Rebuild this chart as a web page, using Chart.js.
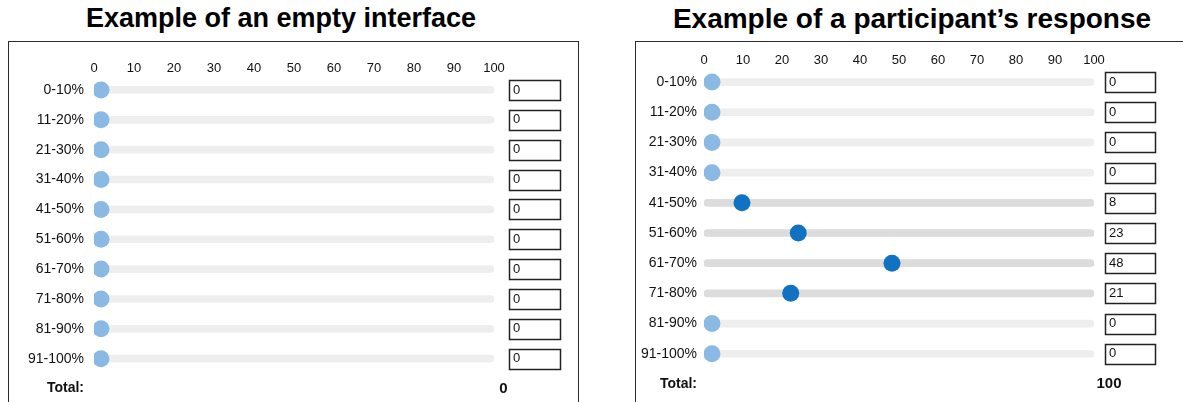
<!DOCTYPE html>
<html>
<head>
<meta charset="utf-8">
<script src="https://cdn.jsdelivr.net/npm/chart.js@4.4.1/dist/chart.umd.min.js"></script>
<style>
  body { margin: 0; width: 1183px; height: 402px; overflow: hidden; background: #fff; position: relative;
         font-family: "Liberation Sans", Arial, Helvetica, sans-serif; }
  .title { position: absolute; top: 5px; font-weight: bold; font-size: 27px; line-height: 27px; color: #000;
           white-space: nowrap; transform: translateX(-50%); }
  .panel { position: absolute; top: 41px; height: 400px; border: 1.5px solid #2b2b2b; box-sizing: border-box; }
  canvas { position: absolute; top: 42px; }
</style>
</head>
<body>
<div class="title" style="left:281px">Example of an empty interface</div>
<div class="title" style="left:912px; font-size:28px">Example of a participant’s response</div>
<div class="panel" style="left:8px; width:571px"></div>
<div class="panel" style="left:635px; width:600px"></div>
<canvas id="emptyChart" width="570" height="370" style="left:8px"></canvas>
<canvas id="responseChart" width="547" height="370" style="left:636px"></canvas>
<script>
// Categorías (filas del formulario)
const categories = ['0-10%', '11-20%', '21-30%', '31-40%', '41-50%',
                    '51-60%', '61-70%', '71-80%', '81-90%', '91-100%'];
const totalLabel = 'Total:';

// Valores de cada panel
const emptyValues = [0, 0, 0, 0, 0, 0, 0, 0, 0, 0];
const responseValues = [0, 0, 0, 0, 8, 23, 48, 21, 0, 0];

// Eje superior: 0..100 de 10 en 10
const tickMin = 0;
const tickMax = 100;
const tickStep = 10;

const FONT = '"Liberation Sans", Arial, Helvetica, sans-serif';

// Dibuja las cajas de texto y el total
const boxesPlugin = {
    id: 'boxes',
    afterDraw(chart, args, opts) {
        const { ctx, chartArea, scales } = chart;
        const y = scales.y;
        ctx.save();
        ctx.strokeStyle = '#222';
        ctx.lineWidth = 1.5;
        opts.values.forEach((v, i) => {
            const py = y.getPixelForValue(i);
            ctx.strokeRect(chartArea.right + opts.boxGap + 0.5, Math.round(py - 10) + 0.5, opts.boxW, 20);
        });
        const total = opts.values.reduce((a, b) => a + b, 0);
        ctx.fillStyle = '#111';
        ctx.font = 'bold 15px ' + FONT;
        ctx.textAlign = 'center';
        ctx.textBaseline = 'middle';
        ctx.fillText(String(total), chartArea.right + opts.totalDx, y.getPixelForValue(categories.length));
        ctx.restore();
    }
};

// sin relleno extra arriba/abajo de los ejes verticales
function fixPadding(s) {
    s.paddingTop = 0;
    s.paddingBottom = 0;
}

function makeChart(id, values, g) {
    const labels = categories.concat([totalLabel]);
    new Chart(document.getElementById(id), {
        type: 'bar',
        plugins: [boxesPlugin],
        data: {
            labels: labels,
            datasets: [{
                // pista del slider
                type: 'bar',
                data: categories.map(() => [tickMin, tickMax]),
                backgroundColor: values.map(v => v > 0 ? '#dcdcdc' : '#eeeeee'),
                barThickness: 7,
                borderRadius: 4,
                borderSkipped: false,
                xAxisID: 'x',
                yAxisID: 'y',
                order: 2
            }, {
                // botón del slider
                type: 'scatter',
                data: values.map((v, i) => ({ x: v, y: categories[i] })),
                pointRadius: 8.5,
                pointBackgroundColor: values.map(v => v > 0 ? '#1272c2' : '#8ab9e4'),
                pointBorderWidth: 0,
                xAxisID: 'x2',
                yAxisID: 'y',
                order: 1
            }]
        },
        options: {
            indexAxis: 'y',
            responsive: false,
            animation: false,
            events: [],
            layout: { padding: { top: 0, bottom: g.padBottom, left: 0, right: 0 } },
            plugins: {
                legend: { display: false },
                tooltip: { enabled: false },
                boxes: { values: values, boxGap: g.boxGap, boxW: g.boxW, totalDx: g.totalDx }
            },
            scales: {
                x: {
                    type: 'linear', position: 'top', min: tickMin, max: tickMax,
                    grid: { display: false, drawTicks: false }, border: { display: false },
                    ticks: { stepSize: tickStep, color: '#111', padding: g.tickPad, maxRotation: 0, autoSkip: false,
                             font: { family: FONT, size: 13 } },
                    afterFit: s => { s.height = g.axisH; }
                },
                x2: { type: 'linear', display: false, min: g.dotMin, max: g.dotMax },
                y: {
                    type: 'category', position: 'left', offset: true,
                    grid: { display: false, drawTicks: false }, border: { display: false },
                    ticks: {
                        color: '#111', padding: g.labelPad, autoSkip: false,
                        font: ctx => ctx.index === categories.length
                            ? { family: FONT, size: 14, weight: 'bold' }
                            : { family: FONT, size: 14 }
                    },
                    afterFit: s => { s.width = g.leftW; fixPadding(s); }
                },
                y2: {
                    type: 'category', position: 'right', offset: true,
                    labels: values.map(String).concat(['']),
                    grid: { display: false, drawTicks: false }, border: { display: false },
                    ticks: { color: '#111', padding: g.boxGap + 4, autoSkip: false,
                             font: { family: FONT, size: 13 } },
                    afterFit: s => { s.width = g.rightW; fixPadding(s); }
                }
            }
        }
    });
}

makeChart('emptyChart', emptyValues, {
    leftW: 86, rightW: 84, axisH: 33, padBottom: 8, labelPad: 10, tickPad: -1,
    dotMin: -1.81, dotMax: 101.81, boxGap: 15, boxW: 51, totalDx: 9.5
});

makeChart('responseChart', responseValues, {
    leftW: 68, rightW: 89, axisH: 25, padBottom: 13, labelPad: 7, tickPad: -1,
    dotMin: -2.13, dotMax: 101.87, boxGap: 11, boxW: 50, totalDx: 15
});
</script>
</body>
</html>
